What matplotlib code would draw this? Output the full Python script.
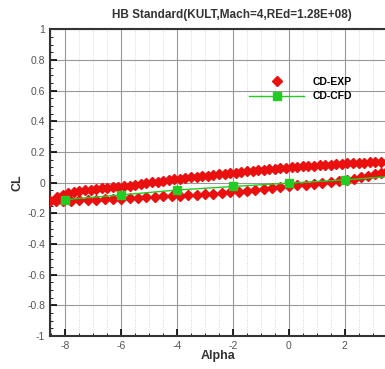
import numpy as np
import matplotlib.pyplot as plt
from matplotlib.ticker import MultipleLocator

plt.rcParams['font.family'] = ['Liberation Sans', 'DejaVu Sans']
plt.rcParams['axes.unicode_minus'] = False

# experiment loop, upper branch (alpha increasing)
alpha_up = [-8.55, -8.3, -8.1, -7.9, -7.7, -7.5, -7.3, -7.1, -6.9, -6.7, -6.5, -6.3, -6.1,
            -5.9, -5.7, -5.5, -5.3, -5.1, -4.9, -4.7, -4.5, -4.3, -4.1, -3.9, -3.7, -3.5,
            -3.3, -3.1, -2.9, -2.7, -2.5, -2.3, -2.1, -1.9, -1.7, -1.5, -1.3, -1.1, -0.9,
            -0.7, -0.5, -0.3, -0.1, 0.1, 0.3, 0.5, 0.7, 0.9, 1.1, 1.3, 1.5, 1.7, 1.9, 2.1,
            2.3, 2.5, 2.7, 2.9, 3.1, 3.3, 3.5, 3.7, 3.85, 3.95]
cl_up = [-0.117, -0.095, -0.08, -0.07, -0.062, -0.056, -0.05, -0.045, -0.041, -0.037,
         -0.034, -0.031, -0.028, -0.024, -0.019, -0.014, -0.009, -0.003, 0.002, 0.007,
         0.012, 0.017, 0.022, 0.026, 0.03, 0.034, 0.038, 0.042, 0.046, 0.05, 0.054, 0.058,
         0.062, 0.066, 0.07, 0.073, 0.077, 0.081, 0.084, 0.088, 0.091, 0.095, 0.098, 0.101,
         0.103, 0.106, 0.108, 0.111, 0.113, 0.116, 0.118, 0.12, 0.122, 0.125, 0.127, 0.129,
         0.13, 0.132, 0.133, 0.134, 0.135, 0.132, 0.125, 0.115]

# experiment loop, lower branch (alpha decreasing)
alpha_down = [3.85, 3.7, 3.5, 3.3, 3.1, 2.85, 2.6, 2.35, 2.1, 1.8, 1.5, 1.2, 0.9, 0.6, 0.3,
              0.0, -0.3, -0.6, -0.9, -1.2, -1.5, -1.8, -2.1, -2.4, -2.7, -3.0, -3.3, -3.6,
              -3.9, -4.2, -4.5, -4.8, -5.1, -5.4, -5.7, -6.0, -6.3, -6.6, -6.9, -7.2, -7.5,
              -7.8, -8.1, -8.35]
cl_down = [0.1, 0.09, 0.078, 0.066, 0.055, 0.044, 0.034, 0.026, 0.02, 0.012, 0.005,
           -0.002, -0.008, -0.013, -0.018, -0.023, -0.029, -0.035, -0.041, -0.047, -0.053,
           -0.059, -0.064, -0.068, -0.072, -0.075, -0.078, -0.081, -0.084, -0.087, -0.09,
           -0.093, -0.096, -0.099, -0.102, -0.105, -0.107, -0.109, -0.111, -0.113, -0.115,
           -0.117, -0.118, -0.119]

# CFD
alpha_cfd = [-8, -6, -4, -2, 0, 2, 4]
cl_cfd = [-0.11, -0.08, -0.048, -0.025, -0.003, 0.018, 0.045]

xticks = [-8, -6, -4, -2, 0, 2]

fig = plt.figure(figsize=(3.85, 3.69), dpi=100)
ax = fig.add_axes([0.13, 0.089, 0.943, 0.832])

ax.plot(alpha_up + alpha_down, cl_up + cl_down, linestyle='none', marker='D',
        markersize=5.3, color='#ea1010', label='CD-EXP', zorder=3)
ax.plot(alpha_cfd, cl_cfd, color='#22cc22', lw=1, marker='s', markersize=5.5,
        label='CD-CFD', zorder=4)

ax.set_xlim(-8.55, 4.45)
ax.set_ylim(-1, 1)
ax.set_xticks(xticks)
ax.xaxis.set_minor_locator(MultipleLocator(0.5))
ax.yaxis.set_major_locator(MultipleLocator(0.2))
ax.yaxis.set_minor_locator(MultipleLocator(0.05))
ax.yaxis.set_major_formatter(plt.FuncFormatter(lambda v, p: '%g' % round(v, 2)))
ax.grid(which='major', color='#999999', lw=0.8)
ax.grid(which='minor', axis='x', color='#cccccc', lw=0.6, linestyle=':')
ax.tick_params(which='both', direction='in', labelsize=7.5, labelcolor='#555555')
ax.tick_params(which='major', length=5, width=1.2)
ax.tick_params(which='minor', length=2.5)
for s in ax.spines.values():
    s.set_linewidth(1.5)
    s.set_color('#333333')

ax.set_title('HB Standard(KULT,Mach=4,REd=1.28E+08)', fontsize=8.5, fontweight='bold',
             color='#333333', pad=8)
ax.set_xlabel('Alpha', fontsize=9, fontweight='bold', color='#333333')
ax.xaxis.set_label_coords(0.463, -0.045)
ax.set_ylabel('CL', fontsize=9, fontweight='bold', color='#333333', labelpad=3)

ax.legend(loc='upper left', bbox_to_anchor=(0.534, 0.862), frameon=False, numpoints=1,
          handlelength=5.3, handletextpad=0.8, borderpad=0, labelspacing=0.45,
          prop={'size': 7.5, 'weight': 'bold'})

fig.savefig('out.png', dpi=100)
